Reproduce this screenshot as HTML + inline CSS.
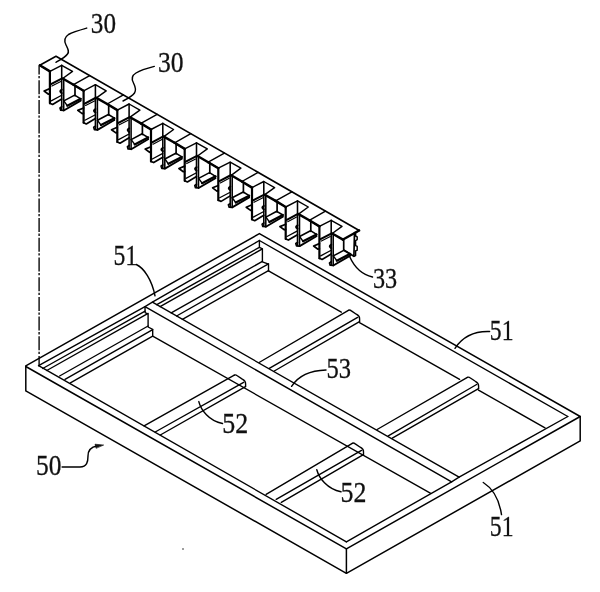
<!DOCTYPE html>
<html><head><meta charset="utf-8"><title>Fig</title>
<style>
html,body{margin:0;padding:0;background:#fff;}
svg{display:block;}
text{font-family:"Liberation Serif","DejaVu Serif",serif;font-size:29px;fill:#111;stroke:#111;stroke-width:0.3px;}
</style></head>
<body>
<svg width="600" height="592" viewBox="0 0 600 592">
<rect width="600" height="592" fill="#fff"/>
<g fill="none" stroke="#000" stroke-linecap="round" stroke-linejoin="round">
<path d="M39.8 65.3 L56.0 56.2 L359.2 230.5" stroke-width="1.56" />
<path d="M343.0 239.6 L359.2 230.5" stroke-width="2.34" />
<path d="M39.8 65.3 L49.9 71.4 L61.7 65.3 L72.5 71.4 L62.7 78.5" stroke-width="1.43" />
<path d="M62.7 78.5 L73.5 84.7" stroke-width="2.47" />
<path d="M39.8 65.3 L49.9 71.4" stroke-width="2.47" />
<path d="M49.9 71.4 L49.9 103.3" stroke-width="2.21" />
<path d="M61.7 65.3 L61.7 109.9" stroke-width="1.56" />
<path d="M63.7 78.9 L63.7 110.3" stroke-width="1.56" />
<path d="M51.0 84.2 L61.7 78.6" stroke-width="2.08" />
<path d="M51.9 86.1 L60.8 81.5" stroke-width="1.17" />
<path d="M49.9 88.6 L44.1 91.0 L48.5 94.2 L49.9 93.7" stroke-width="1.69" />
<path d="M49.9 103.3 L52.6 104.5 L61.7 99.1" stroke-width="1.69" />
<path d="M51.2 100.9 L61.7 95.3" stroke-width="1.3" />
<path d="M61.7 106.8 L60.0 107.9 L60.7 110.2 L63.7 110.5" stroke-width="1.69" />
<path d="M63.8 100.9 L74.7 95.1 L80.7 98.8" stroke-width="1.56" />
<path d="M80.7 98.8 L67.3 105.7" stroke-width="2.21" />
<path d="M63.8 100.9 L67.3 105.7" stroke-width="1.43" />
<path d="M63.8 110.5 L80.7 100.6" stroke-width="1.82" />
<path d="M80.7 98.8 L80.7 100.6" stroke-width="1.3" />
<path d="M61.7 89.7 q-2.8 1.5 0 3.4" stroke-width="2.08" />
<path d="M73.5 84.7 L83.6 90.8 L95.4 84.7 L106.2 90.8 L96.4 97.9" stroke-width="1.43" />
<path d="M96.4 97.9 L107.2 104.0" stroke-width="2.47" />
<path d="M73.5 84.7 L83.6 90.8" stroke-width="2.47" />
<path d="M73.5 84.7 L89.7 75.6" stroke-width="1.43" />
<path d="M83.6 90.8 L83.6 122.7" stroke-width="2.21" />
<path d="M95.4 84.7 L95.4 129.3" stroke-width="1.56" />
<path d="M97.4 98.3 L97.4 129.7" stroke-width="1.56" />
<path d="M75.0 85.5 L75.0 95.7" stroke-width="1.69" />
<path d="M84.7 103.6 L95.4 98.0" stroke-width="2.08" />
<path d="M85.6 105.5 L94.5 100.9" stroke-width="1.17" />
<path d="M83.6 108.0 L77.8 110.4 L82.2 113.6 L83.6 113.1" stroke-width="1.69" />
<path d="M83.6 122.7 L86.3 123.9 L95.4 118.5" stroke-width="1.69" />
<path d="M84.9 120.3 L95.4 114.7" stroke-width="1.3" />
<path d="M95.4 126.2 L93.7 127.3 L94.4 129.6 L97.4 129.9" stroke-width="1.69" />
<path d="M97.5 120.3 L108.4 114.5 L114.4 118.2" stroke-width="1.56" />
<path d="M114.4 118.2 L101.0 125.1" stroke-width="2.21" />
<path d="M97.5 120.3 L101.0 125.1" stroke-width="1.43" />
<path d="M97.5 129.9 L114.4 120.0" stroke-width="1.82" />
<path d="M114.4 118.2 L114.4 120.0" stroke-width="1.3" />
<path d="M95.4 109.1 q-2.8 1.5 0 3.4" stroke-width="2.08" />
<path d="M107.2 104.0 L117.3 110.1 L129.1 104.0 L139.9 110.1 L130.1 117.2" stroke-width="1.43" />
<path d="M130.1 117.2 L140.9 123.4" stroke-width="2.47" />
<path d="M107.2 104.0 L117.3 110.1" stroke-width="2.47" />
<path d="M107.2 104.0 L123.4 94.9" stroke-width="1.43" />
<path d="M117.3 110.1 L117.3 142.0" stroke-width="2.21" />
<path d="M129.1 104.0 L129.1 148.6" stroke-width="1.56" />
<path d="M131.1 117.6 L131.1 149.0" stroke-width="1.56" />
<path d="M108.7 104.8 L108.7 115.0" stroke-width="1.69" />
<path d="M118.4 122.9 L129.1 117.3" stroke-width="2.08" />
<path d="M119.3 124.8 L128.2 120.2" stroke-width="1.17" />
<path d="M117.3 127.3 L111.5 129.7 L115.9 132.9 L117.3 132.4" stroke-width="1.69" />
<path d="M117.3 142.0 L120.0 143.2 L129.1 137.8" stroke-width="1.69" />
<path d="M118.6 139.6 L129.1 134.0" stroke-width="1.3" />
<path d="M129.1 145.5 L127.4 146.6 L128.1 148.9 L131.1 149.2" stroke-width="1.69" />
<path d="M131.2 139.6 L142.1 133.8 L148.1 137.5" stroke-width="1.56" />
<path d="M148.1 137.5 L134.7 144.4" stroke-width="2.21" />
<path d="M131.2 139.6 L134.7 144.4" stroke-width="1.43" />
<path d="M131.2 149.2 L148.1 139.3" stroke-width="1.82" />
<path d="M148.1 137.5 L148.1 139.3" stroke-width="1.3" />
<path d="M129.1 128.4 q-2.8 1.5 0 3.4" stroke-width="2.08" />
<path d="M140.9 123.4 L151.0 129.5 L162.8 123.4 L173.6 129.5 L163.8 136.6" stroke-width="1.43" />
<path d="M163.8 136.6 L174.6 142.8" stroke-width="2.47" />
<path d="M140.9 123.4 L151.0 129.5" stroke-width="2.47" />
<path d="M140.9 123.4 L157.1 114.3" stroke-width="1.43" />
<path d="M151.0 129.5 L151.0 161.4" stroke-width="2.21" />
<path d="M162.8 123.4 L162.8 168.0" stroke-width="1.56" />
<path d="M164.8 137.0 L164.8 168.4" stroke-width="1.56" />
<path d="M142.4 124.2 L142.4 134.4" stroke-width="1.69" />
<path d="M152.1 142.3 L162.8 136.7" stroke-width="2.08" />
<path d="M153.0 144.2 L161.9 139.6" stroke-width="1.17" />
<path d="M151.0 146.7 L145.2 149.1 L149.6 152.3 L151.0 151.8" stroke-width="1.69" />
<path d="M151.0 161.4 L153.7 162.6 L162.8 157.2" stroke-width="1.69" />
<path d="M152.3 159.0 L162.8 153.4" stroke-width="1.3" />
<path d="M162.8 164.9 L161.1 166.0 L161.8 168.3 L164.8 168.6" stroke-width="1.69" />
<path d="M164.9 159.0 L175.8 153.2 L181.8 156.9" stroke-width="1.56" />
<path d="M181.8 156.9 L168.4 163.8" stroke-width="2.21" />
<path d="M164.9 159.0 L168.4 163.8" stroke-width="1.43" />
<path d="M164.9 168.6 L181.8 158.7" stroke-width="1.82" />
<path d="M181.8 156.9 L181.8 158.7" stroke-width="1.3" />
<path d="M162.8 147.8 q-2.8 1.5 0 3.4" stroke-width="2.08" />
<path d="M174.6 142.8 L184.7 148.9 L196.5 142.8 L207.3 148.9 L197.5 156.0" stroke-width="1.43" />
<path d="M197.5 156.0 L208.2 162.2" stroke-width="2.47" />
<path d="M174.6 142.8 L184.7 148.9" stroke-width="2.47" />
<path d="M174.6 142.8 L190.8 133.7" stroke-width="1.43" />
<path d="M184.7 148.9 L184.7 180.8" stroke-width="2.21" />
<path d="M196.5 142.8 L196.5 187.4" stroke-width="1.56" />
<path d="M198.5 156.4 L198.5 187.8" stroke-width="1.56" />
<path d="M176.1 143.6 L176.1 153.8" stroke-width="1.69" />
<path d="M185.8 161.7 L196.5 156.1" stroke-width="2.08" />
<path d="M186.7 163.6 L195.6 159.0" stroke-width="1.17" />
<path d="M184.7 166.1 L178.9 168.5 L183.3 171.7 L184.7 171.2" stroke-width="1.69" />
<path d="M184.7 180.8 L187.4 182.0 L196.5 176.6" stroke-width="1.69" />
<path d="M186.0 178.4 L196.5 172.8" stroke-width="1.3" />
<path d="M196.5 184.3 L194.8 185.4 L195.5 187.7 L198.5 188.0" stroke-width="1.69" />
<path d="M198.6 178.4 L209.5 172.6 L215.5 176.3" stroke-width="1.56" />
<path d="M215.5 176.3 L202.1 183.2" stroke-width="2.21" />
<path d="M198.6 178.4 L202.1 183.2" stroke-width="1.43" />
<path d="M198.6 188.0 L215.5 178.1" stroke-width="1.82" />
<path d="M215.5 176.3 L215.5 178.1" stroke-width="1.3" />
<path d="M196.5 167.2 q-2.8 1.5 0 3.4" stroke-width="2.08" />
<path d="M208.2 162.2 L218.3 168.2 L230.2 162.2 L240.9 168.2 L231.2 175.3" stroke-width="1.43" />
<path d="M231.2 175.3 L241.9 181.5" stroke-width="2.47" />
<path d="M208.2 162.2 L218.3 168.2" stroke-width="2.47" />
<path d="M208.2 162.2 L224.4 153.1" stroke-width="1.43" />
<path d="M218.3 168.2 L218.3 200.2" stroke-width="2.21" />
<path d="M230.2 162.2 L230.2 206.8" stroke-width="1.56" />
<path d="M232.2 175.8 L232.2 207.2" stroke-width="1.56" />
<path d="M209.8 163.0 L209.8 173.2" stroke-width="1.69" />
<path d="M219.4 181.1 L230.2 175.5" stroke-width="2.08" />
<path d="M220.3 183.0 L229.2 178.3" stroke-width="1.17" />
<path d="M218.3 185.5 L212.6 187.8 L216.9 191.1 L218.3 190.6" stroke-width="1.69" />
<path d="M218.3 200.2 L221.1 201.4 L230.2 195.9" stroke-width="1.69" />
<path d="M219.7 197.8 L230.2 192.2" stroke-width="1.3" />
<path d="M230.2 203.7 L228.4 204.8 L229.2 207.1 L232.2 207.4" stroke-width="1.69" />
<path d="M232.2 197.8 L243.2 192.0 L249.2 195.7" stroke-width="1.56" />
<path d="M249.2 195.7 L235.8 202.6" stroke-width="2.21" />
<path d="M232.2 197.8 L235.8 202.6" stroke-width="1.43" />
<path d="M232.2 207.4 L249.2 197.4" stroke-width="1.82" />
<path d="M249.2 195.7 L249.2 197.4" stroke-width="1.3" />
<path d="M230.2 186.6 q-2.8 1.5 0 3.4" stroke-width="2.08" />
<path d="M241.9 181.5 L252.0 187.6 L263.8 181.5 L274.6 187.6 L264.8 194.7" stroke-width="1.43" />
<path d="M264.8 194.7 L275.6 200.9" stroke-width="2.47" />
<path d="M241.9 181.5 L252.0 187.6" stroke-width="2.47" />
<path d="M241.9 181.5 L258.1 172.4" stroke-width="1.43" />
<path d="M252.0 187.6 L252.0 219.5" stroke-width="2.21" />
<path d="M263.8 181.5 L263.8 226.1" stroke-width="1.56" />
<path d="M265.8 195.1 L265.8 226.5" stroke-width="1.56" />
<path d="M243.4 182.3 L243.4 192.5" stroke-width="1.69" />
<path d="M253.1 200.4 L263.8 194.8" stroke-width="2.08" />
<path d="M254.0 202.3 L262.9 197.7" stroke-width="1.17" />
<path d="M252.0 204.8 L246.2 207.2 L250.6 210.4 L252.0 209.9" stroke-width="1.69" />
<path d="M252.0 219.5 L254.7 220.7 L263.8 215.3" stroke-width="1.69" />
<path d="M253.3 217.1 L263.8 211.5" stroke-width="1.3" />
<path d="M263.8 223.0 L262.1 224.1 L262.8 226.4 L265.8 226.7" stroke-width="1.69" />
<path d="M265.9 217.1 L276.8 211.3 L282.8 215.0" stroke-width="1.56" />
<path d="M282.8 215.0 L269.4 221.9" stroke-width="2.21" />
<path d="M265.9 217.1 L269.4 221.9" stroke-width="1.43" />
<path d="M265.9 226.7 L282.8 216.8" stroke-width="1.82" />
<path d="M282.8 215.0 L282.8 216.8" stroke-width="1.3" />
<path d="M263.8 205.9 q-2.8 1.5 0 3.4" stroke-width="2.08" />
<path d="M275.6 200.9 L285.7 207.0 L297.5 200.9 L308.3 207.0 L298.5 214.1" stroke-width="1.43" />
<path d="M298.5 214.1 L309.3 220.3" stroke-width="2.47" />
<path d="M275.6 200.9 L285.7 207.0" stroke-width="2.47" />
<path d="M275.6 200.9 L291.8 191.8" stroke-width="1.43" />
<path d="M285.7 207.0 L285.7 238.9" stroke-width="2.21" />
<path d="M297.5 200.9 L297.5 245.5" stroke-width="1.56" />
<path d="M299.5 214.5 L299.5 245.9" stroke-width="1.56" />
<path d="M277.1 201.7 L277.1 211.9" stroke-width="1.69" />
<path d="M286.8 219.8 L297.5 214.2" stroke-width="2.08" />
<path d="M287.7 221.7 L296.6 217.1" stroke-width="1.17" />
<path d="M285.7 224.2 L279.9 226.6 L284.3 229.8 L285.7 229.3" stroke-width="1.69" />
<path d="M285.7 238.9 L288.4 240.1 L297.5 234.7" stroke-width="1.69" />
<path d="M287.0 236.5 L297.5 230.9" stroke-width="1.3" />
<path d="M297.5 242.4 L295.8 243.5 L296.5 245.8 L299.5 246.1" stroke-width="1.69" />
<path d="M299.6 236.5 L310.5 230.7 L316.5 234.4" stroke-width="1.56" />
<path d="M316.5 234.4 L303.1 241.3" stroke-width="2.21" />
<path d="M299.6 236.5 L303.1 241.3" stroke-width="1.43" />
<path d="M299.6 246.1 L316.5 236.2" stroke-width="1.82" />
<path d="M316.5 234.4 L316.5 236.2" stroke-width="1.3" />
<path d="M297.5 225.3 q-2.8 1.5 0 3.4" stroke-width="2.08" />
<path d="M309.3 220.3 L319.4 226.4 L331.2 220.3 L342.0 226.4 L332.2 233.5" stroke-width="1.43" />
<path d="M332.2 233.5 L343.0 239.6" stroke-width="2.47" />
<path d="M309.3 220.3 L319.4 226.4" stroke-width="2.47" />
<path d="M309.3 220.3 L325.5 211.2" stroke-width="1.43" />
<path d="M319.4 226.4 L319.4 258.3" stroke-width="2.21" />
<path d="M331.2 220.3 L331.2 264.9" stroke-width="1.56" />
<path d="M333.2 233.9 L333.2 265.3" stroke-width="1.56" />
<path d="M310.8 221.1 L310.8 231.3" stroke-width="1.69" />
<path d="M320.5 239.2 L331.2 233.6" stroke-width="2.08" />
<path d="M321.4 241.1 L330.3 236.5" stroke-width="1.17" />
<path d="M319.4 243.6 L313.6 246.0 L318.0 249.2 L319.4 248.7" stroke-width="1.69" />
<path d="M319.4 258.3 L322.1 259.5 L331.2 254.1" stroke-width="1.69" />
<path d="M320.7 255.9 L331.2 250.3" stroke-width="1.3" />
<path d="M331.2 261.8 L329.5 262.9 L330.2 265.2 L333.2 265.5" stroke-width="1.69" />
<path d="M333.3 255.9 L344.2 250.1 L350.2 253.8" stroke-width="1.56" />
<path d="M350.2 253.8 L336.8 260.7" stroke-width="2.21" />
<path d="M333.3 255.9 L336.8 260.7" stroke-width="1.43" />
<path d="M333.3 265.5 L350.2 255.6" stroke-width="1.82" />
<path d="M350.2 253.8 L350.2 255.6" stroke-width="1.3" />
<path d="M331.2 244.7 q-2.8 1.5 0 3.4" stroke-width="2.08" />
<path d="M343.7 239.6 L343.7 250.2 L353.9 256.3 L354.5 232.6" stroke-width="1.69" />
<path d="M358.9 230.2 L355.6 232.4 V236 L357.2 236.8 V239.6 L355.6 240.6 V245.6 L357.2 246.4 V250.2 L355.6 251 V255.6 L353.9 256.3" stroke-width="1.43" />
<path d="M39.1 65.4 V366" stroke-width="1.35" stroke-dasharray="14 1.5 2.3 1.9" stroke-dashoffset="4.9" stroke-linecap="butt"/>
<path d="M25.8 365.8 L259.4 233.6 L580.2 416.5 L346.4 548.9 L25.8 366.5" stroke-width="1.49" />
<path d="M25.8 366.5 L25.8 390.9 L346.4 573.3 L580.2 440.9 L580.2 416.5" stroke-width="1.49" />
<path d="M346.4 548.9 L346.4 573.3" stroke-width="1.49" />
<path d="M38.6 365.7 L145.0 306.6 L152.4 302.2 L259.4 240.5" stroke-width="1.38" />
<path d="M259.4 240.5 L567.8 416.5" stroke-width="1.38" />
<path d="M567.8 416.5 L459.1 477.2 L451.6 481.8 L346.4 541.8" stroke-width="1.38" />
<path d="M346.4 541.8 L38.6 365.7" stroke-width="1.38" />
<path d="M145.0 306.6 L451.6 481.8" stroke-width="1.38" />
<path d="M152.4 302.2 L459.1 477.2" stroke-width="1.38" />
<path d="M145.0 306.6 L145.1 312.6 L148.1 314.1 L148.1 327.0 L152.7 329.3 L152.7 336.1 L430.3 493.2" stroke-width="1.38" />
<path d="M42.7 368.5 L145.1 311.2" stroke-width="1.38" />
<path d="M156.8 304.7 L259.4 247.3" stroke-width="1.38" />
<path d="M46.8 370.5 L148.1 313.4" stroke-width="1.38" />
<path d="M160.1 306.6 L262.4 248.9" stroke-width="1.38" />
<path d="M59.6 376.0 L148.1 326.0" stroke-width="1.38" />
<path d="M171.2 312.9 L262.4 261.4" stroke-width="1.38" />
<path d="M65.0 379.4 L152.7 329.6" stroke-width="1.38" />
<path d="M176.6 316.0 L268.5 263.8" stroke-width="1.38" />
<path d="M70.4 382.8 L152.7 336.2" stroke-width="1.38" />
<path d="M182.4 319.3 L268.5 270.6" stroke-width="1.38" />
<path d="M259.4 240.5 L259.4 247.3 L262.4 248.9 L262.4 261.8 L268.5 264.1 L268.5 270.9" stroke-width="1.38" />
<path d="M144.1 425.9 L234.3 375.2" stroke-width="1.38" />
<path d="M155.2 432.0 L243.6 382.3" stroke-width="1.38" />
<path d="M160.3 435.0 L245.5 386.6" stroke-width="1.38" />
<path d="M234.3 375.2 q1.4 -0.7 2.6 0.3 L242.3 379.1 Q245.7 380.7 245.6 383.7 L245.6 386.6" stroke-width="1.38" />
<path d="M266.1 494.3 L352.3 443.3" stroke-width="1.38" />
<path d="M276.2 499.3 L361.5 450.4" stroke-width="1.38" />
<path d="M281.3 502.3 L363.4 454.7" stroke-width="1.38" />
<path d="M352.3 443.3 q1.4 -0.7 2.6 0.3 L360.2 447.2 Q363.6 448.8 363.5 451.8 L363.5 454.7" stroke-width="1.38" />
<path d="M259.1 362.5 L348.4 310.3" stroke-width="1.38" />
<path d="M269.3 368.3 L357.6 317.4" stroke-width="1.38" />
<path d="M274.3 371.0 L359.5 321.6" stroke-width="1.38" />
<path d="M348.4 310.3 q1.4 -0.7 2.6 0.3 L356.3 314.2 Q359.7 315.8 359.6 318.8 L359.6 321.6" stroke-width="1.38" />
<path d="M377.1 429.5 L467.4 377.4" stroke-width="1.38" />
<path d="M388.3 435.8 L476.6 384.5" stroke-width="1.38" />
<path d="M392.3 438.2 L478.5 388.7" stroke-width="1.38" />
<path d="M467.4 377.4 q1.4 -0.7 2.6 0.3 L475.3 381.3 Q478.7 382.9 478.6 385.9 L478.6 388.7" stroke-width="1.38" />
<path d="M268.5 270.9 L341.3 312.2" stroke-width="1.38" />
<path d="M359.5 322.6 L459.6 379.4" stroke-width="1.38" />
<path d="M478.5 390.1 L545.0 427.9" stroke-width="1.38" />
<path d="M86.7 28.1 C80 30 72 32.5 68.5 34.5 C64 37.5 64 41 66 45 C68 49 69.5 51.5 67.5 54 C65.5 57 61 59.5 56 62.3" stroke-width="1.44" />
<path d="M154.3 66.4 C148 68 140 70.5 136 73 C131 76 131.5 79.5 133.5 83 C135.5 87 136.5 90 134.5 93 C132.5 96 128 98.5 123 101" stroke-width="1.44" />
<path d="M349.7 256.7 C353 264 360 274 372.5 277" stroke-width="1.44" />
<path d="M136.3 264.5 C144 268 152 280 155 295.8" stroke-width="1.44" />
<path d="M489.6 331.5 C476 331 463 336 455 348.3" stroke-width="1.44" />
<path d="M483.3 482.5 C492 488 499 498 501.5 514.6" stroke-width="1.44" />
<path d="M198.8 401.6 C201 410 209 421 222.5 423.5" stroke-width="1.44" />
<path d="M316.8 469.7 C319 478 327 489 341 491.8" stroke-width="1.44" />
<path d="M291.6 386.3 C297 378 308 370.5 326 370" stroke-width="1.44" />
<path d="M62.1 467 H80 C87 466.8 88 462 88 456 C88 450 91 447 97 446" stroke-width="1.44" />
<path d="M103.3 445 L95 444.2 L96 448 Z" fill="#111" stroke-width="0.6"/>
<circle cx="183" cy="549" r="0.8" fill="#222" stroke="none"/>
</g>
<g style="filter:grayscale(1)">
<text transform="translate(90.84 33.45) scale(0.868 1.022)">30</text>
<text transform="translate(157.92 71.81) scale(0.883 1.001)">30</text>
<text transform="translate(372.99 287.61) scale(0.836 0.986)">33</text>
<text transform="translate(113.58 264.71) scale(0.815 0.996)">51</text>
<text transform="translate(489.83 339.71) scale(0.817 1.016)">51</text>
<text transform="translate(489.83 535.51) scale(0.817 0.990)">51</text>
<text transform="translate(326.43 378.46) scale(0.847 1.006)">53</text>
<text transform="translate(222.19 433.46) scale(0.894 0.986)">52</text>
<text transform="translate(340.55 501.71) scale(0.892 1.009)">52</text>
<text transform="translate(35.97 474.70) scale(0.877 1.022)">50</text>
</g>
</svg>
</body></html>
